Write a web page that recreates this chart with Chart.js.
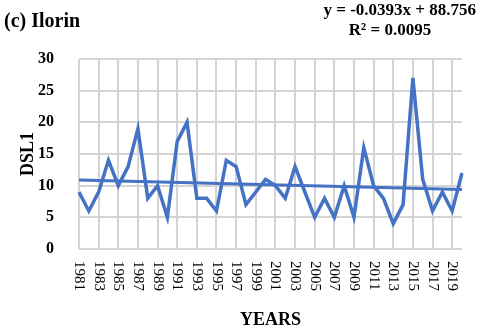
<!DOCTYPE html>
<html>
<head>
<meta charset="utf-8">
<script src="https://cdn.jsdelivr.net/npm/chart.js@4"></script>
<style>
  html, body { margin: 0; padding: 0; background: #fff; }
  #wrap { width: 480px; height: 328px; }
</style>
</head>
<body>
<div id="wrap"><canvas id="dslChart" width="480" height="328"></canvas></div>
<script>
// data
const years = [];
for (let y = 1981; y <= 2020; y++) years.push(String(y));
const dsl1 = [9, 6, 9, 14, 10, 13, 19, 8, 10, 5,
              17, 20, 8, 8, 6, 14, 13, 7, 9, 11,
              10, 8, 13, 9, 5, 8, 5, 10, 5, 16,
              10, 8, 4, 7, 27, 11, 6, 9, 6, 12];
// linear trend end points
const trendFirst = 10.9;
const trendLast = 9.4;
const trend = years.map((_, i) => i === 0 ? trendFirst : (i === years.length - 1 ? trendLast : null));
const yTicks = [0, 5, 10, 15, 20, 25, 30];

const blue = "#4472C4";
const gridGrey = "#d4d4d4";
const serif = "'Liberation Serif', 'Times New Roman', serif";

// extra texts + clockwise rotated year labels + grid (every 2 years / every 5 units)
const textPlugin = {
  id: "texts",
  beforeDatasetsDraw(chart) {
    const c = chart.ctx;
    const xs = chart.scales.x;
    const ys = chart.scales.y;
    const area = chart.chartArea;
    c.save();
    c.strokeStyle = gridGrey;
    c.lineWidth = 2;
    years.forEach((lab, i) => {
      if (i % 2 !== 0) return;
      const px = Math.round(xs.getPixelForValue(i));
      c.beginPath();
      c.moveTo(px, area.top);
      c.lineTo(px, area.bottom);
      c.stroke();
    });
    yTicks.forEach(v => {
      const py = Math.round(ys.getPixelForValue(v));
      c.beginPath();
      c.moveTo(area.left, py);
      c.lineTo(area.right, py);
      c.stroke();
    });
    c.restore();
  },
  afterDraw(chart) {
    const c = chart.ctx;
    const xs = chart.scales.x;
    const area = chart.chartArea;
    c.save();
    c.fillStyle = "#000";

    c.font = "bold 20px " + serif;
    c.textAlign = "left";
    c.textBaseline = "alphabetic";
    c.fillText("(c) Ilorin", 4, 27);

    c.font = "bold 17px " + serif;
    c.textAlign = "right";
    c.fillText("y = -0.0393x + 88.756", 476, 15);
    c.textAlign = "center";
    c.fillText("R\u00B2 = 0.0095", 390, 35);

    c.font = "bold 18px " + serif;
    c.fillText("YEARS", (area.left + area.right) / 2, 325);

    c.save();
    c.translate(28, (area.top + area.bottom) / 2);
    c.rotate(-Math.PI / 2);
    c.textBaseline = "middle";
    c.fillText("DSL1", 0, 0);
    c.restore();

    c.font = "15px " + serif;
    c.textAlign = "left";
    c.textBaseline = "middle";
    years.forEach((lab, i) => {
      if (i % 2 !== 0) return;
      c.save();
      c.translate(xs.getPixelForValue(i), area.bottom + 12);
      c.rotate(Math.PI / 2);
      c.fillText(lab, 0, 0);
      c.restore();
    });
    c.restore();
  }
};

new Chart(document.getElementById("dslChart").getContext("2d"), {
  type: "line",
  data: {
    labels: years,
    datasets: [
      {
        label: "DSL1",
        data: dsl1,
        borderColor: blue,
        borderWidth: 3.5,
        pointRadius: 0,
        tension: 0,
        fill: false
      },
      {
        label: "Linear (DSL1)",
        data: trend,
        borderColor: blue,
        borderWidth: 3,
        pointRadius: 0,
        spanGaps: true,
        fill: false
      }
    ]
  },
  options: {
    responsive: false,
    animation: false,
    layout: { padding: { top: 59, right: 18, left: 0, bottom: 0 } },
    plugins: {
      legend: { display: false },
      tooltip: { enabled: false }
    },
    scales: {
      x: {
        offset: false,
        ticks: { display: false, autoSkip: false },
        grid: { display: false },
        border: { display: false },
        afterFit(scale) { scale.height = 79; }
      },
      y: {
        min: 0,
        max: 30,
        afterBuildTicks(scale) { scale.ticks = yTicks.map(v => ({ value: v })); },
        ticks: {
          color: "#000",
          padding: 17,
          font: { family: serif, size: 16, weight: "bold" }
        },
        grid: { display: false },
        border: { display: false },
        afterFit(scale) { scale.width = 79; }
      }
    }
  },
  plugins: [textPlugin]
});
</script>
</body>
</html>
